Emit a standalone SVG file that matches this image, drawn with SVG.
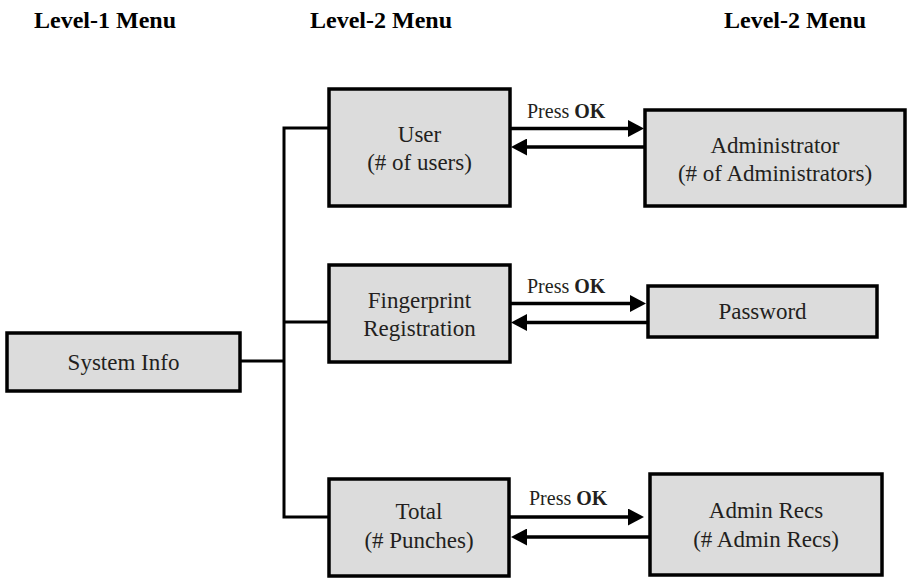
<svg xmlns="http://www.w3.org/2000/svg" width="910" height="579" viewBox="0 0 910 579">
<style>
.box{fill:#dcdcdc;stroke:#000;stroke-width:3.5}
.t{font-size:23px;fill:#231f20;text-anchor:middle}
.h{font-size:24px;font-weight:bold;fill:#000;text-anchor:middle}
.p{font-size:20px;fill:#231f20}
.ln{fill:none;stroke:#000;stroke-width:3}
.ar{fill:none;stroke:#000;stroke-width:3.5;marker-end:url(#ah)}
</style>
<defs>
<marker id="ah" markerUnits="userSpaceOnUse" markerWidth="17" markerHeight="17" refX="8" refY="8.5" orient="auto" viewBox="0 0 17 17">
<path d="M0,0 L16,8.5 L0,17 z" fill="#000"/>
</marker>
</defs>
<rect width="910" height="579" fill="#fff"/>
<g font-family="Liberation Serif, Times New Roman, Tinos, Noto Serif, DejaVu Serif, FreeSerif, serif">
<g id="headers">
<text class="h" x="105" y="28">Level-1 Menu</text>
<text class="h" x="381" y="28">Level-2 Menu</text>
<text class="h" x="795" y="28">Level-2 Menu</text>
</g>
<g id="connectors">
<path class="ln" d="M240,361 H284 M329,128 H284 V517 H329 M284,322 H329"/>
<path class="ar" d="M511,128.5 H636"/>
<path class="ar" d="M645,147 H519"/>
<path class="ar" d="M511,303.5 H638"/>
<path class="ar" d="M648,322.5 H519"/>
<path class="ar" d="M510,517 H636"/>
<path class="ar" d="M650,537 H519"/>
<text class="p" x="527" y="118">Press <tspan font-weight="bold">OK</tspan></text>
<text class="p" x="527" y="293">Press <tspan font-weight="bold">OK</tspan></text>
<text class="p" x="529" y="505">Press <tspan font-weight="bold">OK</tspan></text>
</g>
<g id="system-info">
<rect class="box" x="7" y="333" width="233" height="58"/>
<text class="t" x="123.5" y="370">System Info</text>
</g>
<g id="user">
<rect class="box" x="329" y="89" width="181" height="117"/>
<text class="t" x="419.5" y="141.5">User</text>
<text class="t" x="419.5" y="169.5">(# of users)</text>
</g>
<g id="administrator">
<rect class="box" x="645" y="110" width="260" height="96"/>
<text class="t" x="775" y="153">Administrator</text>
<text class="t" x="775" y="181">(# of Administrators)</text>
</g>
<g id="fingerprint">
<rect class="box" x="329" y="265" width="181" height="97"/>
<text class="t" x="419.5" y="307.5">Fingerprint</text>
<text class="t" x="419.5" y="335.5">Registration</text>
</g>
<g id="password">
<rect class="box" x="648" y="286" width="229" height="51"/>
<text class="t" x="762.5" y="319">Password</text>
</g>
<g id="total">
<rect class="box" x="329" y="479" width="180" height="97"/>
<text class="t" x="419" y="519">Total</text>
<text class="t" x="419" y="548">(# Punches)</text>
</g>
<g id="admin-recs">
<rect class="box" x="650" y="474" width="232" height="101"/>
<text class="t" x="766" y="517.5">Admin Recs</text>
<text class="t" x="766" y="546.5">(# Admin Recs)</text>
</g>
</g>
</svg>
